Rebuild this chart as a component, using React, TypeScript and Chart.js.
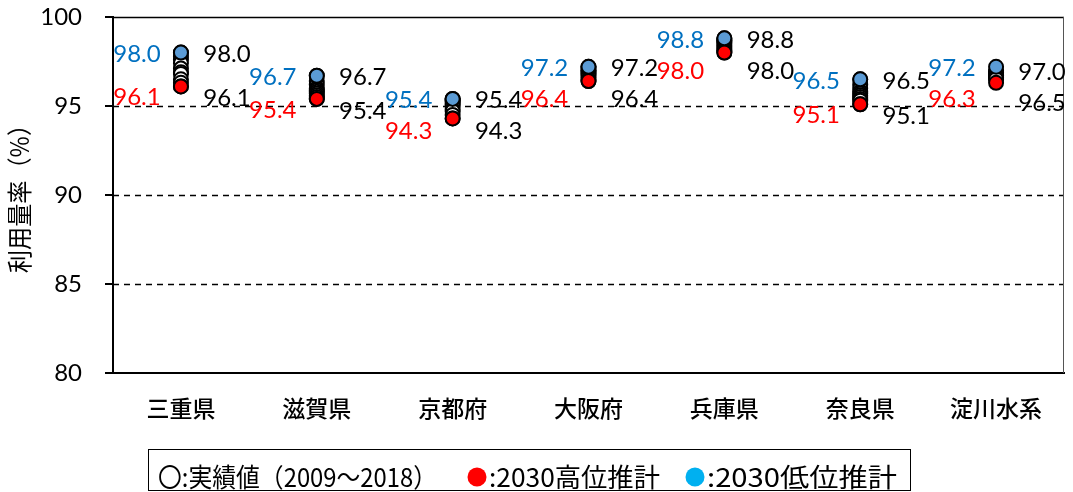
import React, { useEffect, useRef } from 'react';
import { Chart, registerables } from 'chart.js';

Chart.register(...registerables);

const categories = ['三重県', '滋賀県', '京都府', '大阪府', '兵庫県', '奈良県', '淀川水系'];
const years = [2009, 2010, 2011, 2012, 2013, 2014, 2015, 2016, 2017, 2018];

// actual values 2009-2018 per category (estimated)
const actualMie = [96.1, 96.3, 96.5, 96.8, 96.9, 97.1, 97.4, 97.6, 97.8, 98.0];
const actualShiga = [95.4, 95.5, 95.6, 95.7, 95.8, 95.9, 96.0, 96.2, 96.4, 96.7];
const actualKyoto = [94.3, 94.5, 94.7, 94.8, 95.0, 95.1, 95.2, 95.3, 95.3, 95.4];
const actualOsaka = [96.4, 96.5, 96.6, 96.7, 96.8, 96.9, 97.0, 97.0, 97.1, 97.2];
const actualHyogo = [98.0, 98.1, 98.2, 98.3, 98.4, 98.5, 98.6, 98.7, 98.7, 98.8];
const actualNara = [95.1, 95.3, 95.4, 95.5, 95.6, 95.7, 95.8, 96.0, 96.2, 96.5];
const actualYodo = [96.5, 96.6, 96.6, 96.7, 96.7, 96.8, 96.8, 96.9, 96.9, 97.0];

const high2030 = [96.1, 95.4, 94.3, 96.4, 98.0, 95.1, 96.3];
const low2030 = [98.0, 96.7, 95.4, 97.2, 98.8, 96.5, 97.2];

const yMin = 80;
const yMax = 100;
const yStep = 5;
const dashedGridValues = [85, 90, 95];

const yTitle = '利用量率（%）';
const legendActual = '〇:実績値（2009～2018）';
const legendHigh = ':2030高位推計';
const legendLow = ':2030低位推計';

const actualByCategory = [actualMie, actualShiga, actualKyoto, actualOsaka, actualHyogo, actualNara, actualYodo];

const LABEL_FONT = '24px Lato';
const CJK = '"Noto Sans CJK JP"';

function fitText(ctx: CanvasRenderingContext2D, text: string, x: number, y: number, width: number) {
  const w = ctx.measureText(text).width;
  ctx.save();
  ctx.translate(x, y);
  ctx.scale(width / w, 1);
  ctx.fillText(text, 0, 0);
  ctx.restore();
}

const gridPlugin = {
  id: 'customGrid',
  beforeDatasetsDraw(chart: any) {
    const { ctx, chartArea, scales } = chart;
    const y = scales.y;
    ctx.save();
    ctx.strokeStyle = '#000';
    ctx.lineWidth = 1.3;
    ctx.setLineDash([6, 5]);
    dashedGridValues.forEach((v) => {
      const py = Math.round(y.getPixelForValue(v)) + 0.5;
      ctx.beginPath();
      ctx.moveTo(chartArea.left, py);
      ctx.lineTo(chartArea.right, py);
      ctx.stroke();
    });
    ctx.setLineDash([]);
    const ty = Math.round(y.getPixelForValue(yMax)) + 0.5;
    ctx.lineWidth = 1.5;
    ctx.beginPath();
    ctx.moveTo(chartArea.left, ty);
    ctx.lineTo(chartArea.right, ty);
    ctx.stroke();
    ctx.strokeStyle = '#555';
    ctx.lineWidth = 1;
    ctx.beginPath();
    ctx.moveTo(chartArea.right - 0.5, chartArea.top);
    ctx.lineTo(chartArea.right - 0.5, chartArea.bottom);
    ctx.stroke();
    ctx.restore();
  },
};

const labelPlugin = {
  id: 'valueLabels',
  afterDatasetsDraw(chart: any) {
    const { ctx, scales } = chart;
    const x = scales.x;
    const y = scales.y;
    ctx.save();
    ctx.font = LABEL_FONT;
    ctx.textAlign = 'center';
    ctx.textBaseline = 'middle';
    categories.forEach((_, i) => {
      const cx = x.getPixelForValue(i);
      const by = y.getPixelForValue(low2030[i]) + 1.5;
      const ry = Math.max(y.getPixelForValue(high2030[i]) + 11, by + 31);
      ctx.fillStyle = '#0070C0';
      ctx.fillText(low2030[i].toFixed(1), cx - 44, by);
      ctx.fillStyle = '#FF0000';
      ctx.fillText(high2030[i].toFixed(1), cx - 44, ry);
      const a = actualByCategory[i];
      const mx = Math.max(...a);
      const mn = Math.min(...a);
      const my = y.getPixelForValue(mx) + 1.5;
      const ny = Math.max(y.getPixelForValue(mn) + 12, my + 31);
      ctx.fillStyle = '#000';
      ctx.fillText(mx.toFixed(1), cx + 46, my);
      ctx.fillText(mn.toFixed(1), cx + 46, ny);
    });
    ctx.restore();
  },
};

const decorPlugin = {
  id: 'decor',
  afterDraw(chart: any) {
    const { ctx, chartArea } = chart;
    ctx.save();
    ctx.fillStyle = '#000';
    ctx.font = `25px ${CJK}`;
    ctx.textAlign = 'center';
    ctx.textBaseline = 'middle';
    ctx.translate(19, (chartArea.top + chartArea.bottom) / 2 - 2);
    ctx.rotate(-Math.PI / 2);
    fitText(ctx, yTitle, 0, 0, 160);
    ctx.restore();

    ctx.save();
    ctx.strokeStyle = '#000';
    ctx.lineWidth = 1;
    ctx.strokeRect(148.5, 449.5, 762, 41);
    ctx.fillStyle = '#000';
    ctx.font = `26px ${CJK}`;
    ctx.textAlign = 'left';
    ctx.textBaseline = 'middle';
    const ly = 477;
    fitText(ctx, legendActual, 158, ly, 279);
    ctx.fillStyle = '#FF0000';
    ctx.beginPath();
    ctx.arc(477, ly, 9.5, 0, Math.PI * 2);
    ctx.fill();
    ctx.fillStyle = '#000';
    fitText(ctx, legendHigh, 489, ly, 171);
    ctx.fillStyle = '#00B0F0';
    ctx.beginPath();
    ctx.arc(695, ly, 9.5, 0, Math.PI * 2);
    ctx.fill();
    ctx.fillStyle = '#000';
    fitText(ctx, legendLow, 707, ly, 190);
    ctx.restore();
  },
};

export default function App() {
  const canvasRef = useRef<HTMLCanvasElement>(null);

  useEffect(() => {
    document.body.style.margin = '0';
    const canvas = canvasRef.current;
    if (!canvas) return;

    const pointBase = {
      type: 'line' as const,
      showLine: false,
      pointRadius: 7,
      pointHoverRadius: 7,
      pointBorderWidth: 2,
      pointBorderColor: '#000',
    };

    const yearSets = years.map((yr, k) => ({
      ...pointBase,
      label: String(yr),
      data: actualByCategory.map((arr) => arr[k]),
      pointBackgroundColor: '#FFFFFF',
      order: 2,
    }));

    const chart = new Chart(canvas, {
      type: 'line',
      data: {
        labels: categories,
        datasets: [
          {
            ...pointBase,
            label: '2030低位推計',
            data: low2030,
            pointBackgroundColor: '#5B9BD5',
            order: 0,
          },
          {
            ...pointBase,
            label: '2030高位推計',
            data: high2030,
            pointBackgroundColor: '#FF0000',
            order: 1,
          },
          ...yearSets,
        ],
      },
      options: {
        animation: false,
        responsive: false,
        events: [],
        layout: { padding: { top: 17, right: 3, left: 0, bottom: 0 } },
        plugins: {
          legend: { display: false },
          tooltip: { enabled: false },
          title: { display: false },
        },
        scales: {
          x: {
            type: 'category',
            offset: true,
            grid: { display: false, drawTicks: false },
            border: { display: true, color: '#000', width: 2 },
            ticks: {
              color: '#000',
              font: { family: CJK, size: 23, weight: '500' },
              padding: 21,
              maxRotation: 0,
            },
            afterFit: (scale: any) => {
              scale.height = 119;
              scale.paddingLeft = 0;
              scale.paddingRight = 0;
            },
          },
          y: {
            min: yMin,
            max: yMax,
            grid: {
              display: true,
              drawOnChartArea: false,
              drawTicks: true,
              tickLength: 8,
              color: '#000',
              lineWidth: 2,
            },
            border: { display: true, color: '#000', width: 2 },
            ticks: {
              stepSize: yStep,
              color: '#000',
              font: { family: 'Lato', size: 24 },
              padding: 23,
            },
            afterFit: (scale: any) => {
              scale.width = 113;
              scale.paddingTop = 0;
              scale.paddingBottom = 0;
            },
          },
        },
      },
      plugins: [gridPlugin, labelPlugin, decorPlugin],
    });

    return () => {
      chart.destroy();
    };
  }, []);

  return (
    <div style={{ position: 'absolute', left: 0, top: 0, width: 1073, height: 492 }}>
      <canvas ref={canvasRef} width={1073} height={492} />
    </div>
  );
}
